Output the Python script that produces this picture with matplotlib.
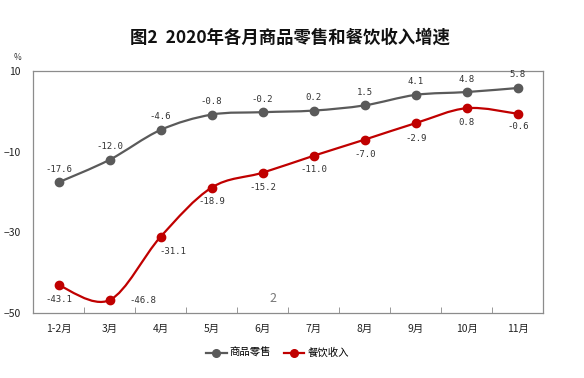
import matplotlib
matplotlib.use("Agg")
import numpy as np
import matplotlib.pyplot as plt
from matplotlib.path import Path
from matplotlib.patches import PathPatch

plt.rcParams["font.family"] = ["Noto Sans CJK SC", "DejaVu Sans"]

months = ["1-2月", "3月", "4月", "5月", "6月", "7月", "8月", "9月", "10月", "11月"]
goods = [-17.6, -12.0, -4.6, -0.8, -0.2, 0.2, 1.5, 4.1, 4.8, 5.8]
catering = [-43.1, -46.8, -31.1, -18.9, -15.2, -11.0, -7.0, -2.9, 0.8, -0.6]

# label offsets in pixels (dx, dy)
goods_offsets = [(0, 13)] * 10
catering_offsets = [(0, -14), (33, 0), (12, -15), (0, -14), (0, -15),
                    (0, -14), (0, -15), (0, -15), (0, -14), (0, -13)]

gray = "#5a5a5a"
red = "#c00000"


def smooth_path(x, y):
    # catmull-rom style bezier through the points
    pts = np.column_stack([x, y]).astype(float)
    verts = [pts[0]]
    codes = [Path.MOVETO]
    n = len(pts)
    for i in range(n - 1):
        p0 = pts[i - 1] if i > 0 else pts[i]
        p1 = pts[i]
        p2 = pts[i + 1]
        p3 = pts[i + 2] if i + 2 < n else pts[i + 1]
        c1 = p1 + (p2 - p0) / 6
        c2 = p2 - (p3 - p1) / 6
        verts += [c1, c2, p2]
        codes += [Path.CURVE4] * 3
    return Path(verts, codes)


fig = plt.figure(figsize=(5.84, 3.78), dpi=100)
ax = fig.add_axes([0.0565, 0.172, 0.874, 0.640])

x = np.arange(len(months))
for vals, col, offs, lab in [(goods, gray, goods_offsets, "商品零售"),
                             (catering, red, catering_offsets, "餐饮收入")]:
    ax.add_patch(PathPatch(smooth_path(x, vals), fill=False, edgecolor=col, lw=1.6, zorder=2))
    ax.plot(x, vals, "o", color=col, markersize=6, zorder=3)
    ax.plot([], [], "-o", color=col, lw=1.6, markersize=5.5, label=lab)
    for xi, v, (dx, dy) in zip(x, vals, offs):
        ax.annotate(f"{v:.1f}", (xi, v), xytext=(dx * 0.72, dy * 0.72), textcoords="offset points",
                    ha="center", va="center", fontsize=6.5, color="#333333",
                    family="DejaVu Sans Mono")

ax.set_xlim(-0.5, 9.5)
ax.set_ylim(-50, 10)
ax.set_yticks([10, -10, -30, -50])
ax.set_xticks(x)
ax.set_xticklabels(months)
ax.set_xticks(np.arange(0.5, 9, 1), minor=True)
ax.tick_params(axis="x", which="major", length=0, pad=8, labelsize=7.5, colors="#222222")
ax.tick_params(axis="x", which="minor", length=4, direction="in", color="#888888")
ax.tick_params(axis="y", length=0, pad=9, labelsize=7.5, colors="#222222")
for s in ax.spines.values():
    s.set_color("#8c8c8c")
    s.set_linewidth(0.9)

ax.text(4.2, -46.5, "2", fontsize=9, color="#777777", ha="center", va="center")
fig.text(14 / 584, 1 - 58 / 378, "%", fontsize=6, ha="left", va="center", color="#333333")

fig.text(0.497, 1 - 38 / 378, "图2  2020年各月商品零售和餐饮收入增速", fontsize=12.5,
         fontweight="bold", ha="center", va="center", color="#111111")

fig.legend(loc="center", bbox_to_anchor=(0.475, 1 - 353 / 378), ncol=2, frameon=False,
           fontsize=7.5, handlelength=2.0, columnspacing=1.2, handletextpad=0.3)

fig.savefig("out.png", dpi=100, facecolor="white")
